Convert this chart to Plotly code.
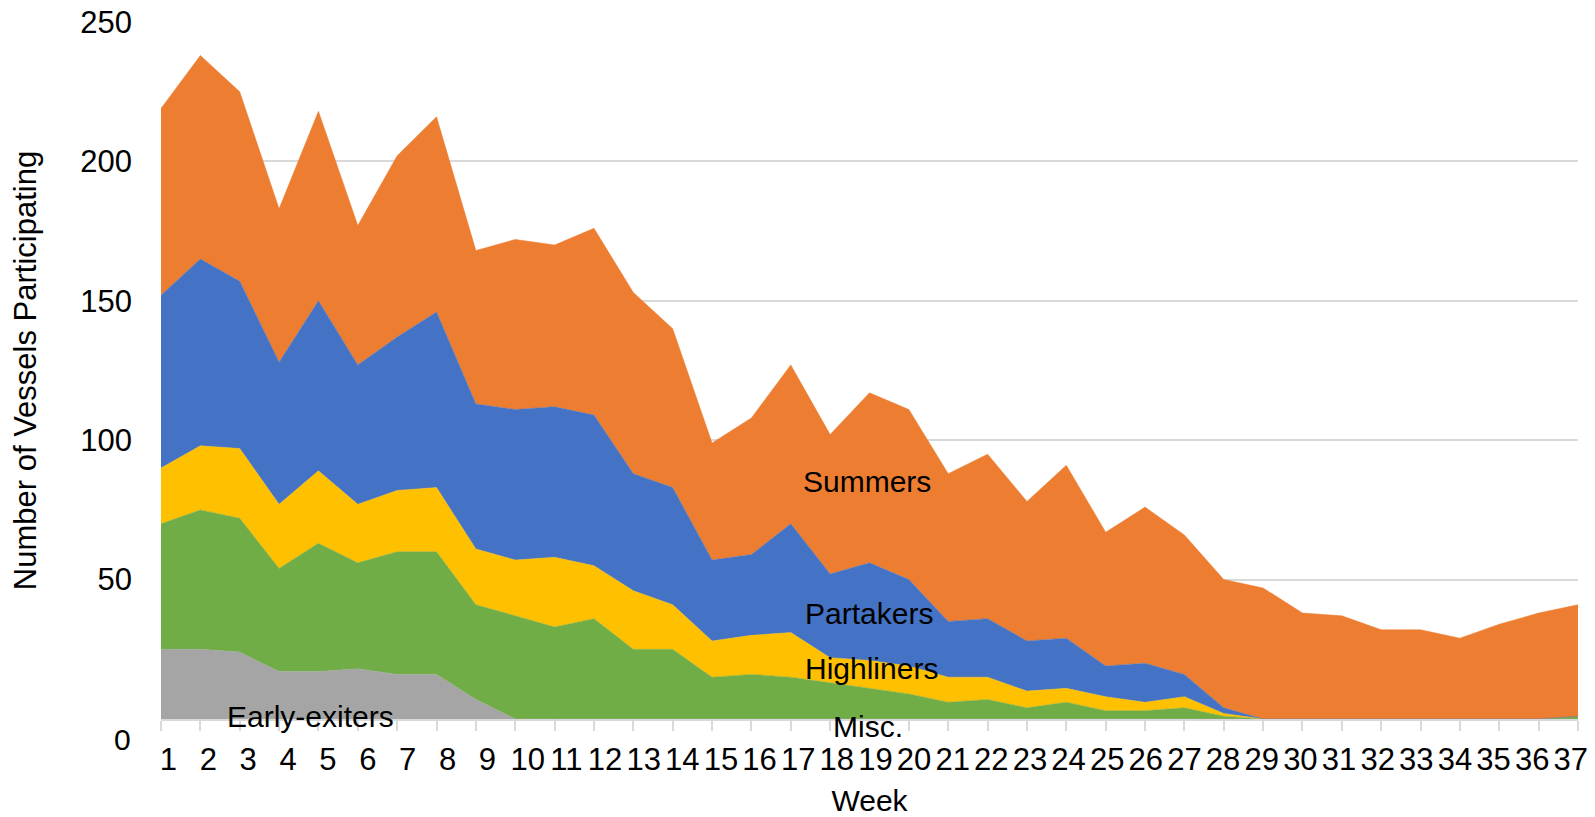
import plotly.graph_objects as go

weeks = list(range(1, 38))
week_labels = [str(w) for w in weeks]

early_exiters = [25, 25, 24, 17, 17, 18, 16, 16, 7, 0, 0, 0, 0, 0, 0, 0, 0, 0, 0, 0,
                 0, 0, 0, 0, 0, 0, 0, 0, 0, 0, 0, 0, 0, 0, 0, 0, 0]
misc = [45, 50, 48, 37, 46, 38, 44, 44, 34, 37, 33, 36, 25, 25, 15, 16, 15, 13, 11, 9,
        6, 7, 4, 6, 3, 3, 4, 1, 0, 0, 0, 0, 0, 0, 0, 0, 1]
highliners = [20, 23, 25, 23, 26, 21, 22, 23, 20, 20, 25, 19, 21, 16, 13, 14, 16, 9, 10, 10,
              9, 8, 6, 5, 5, 3, 4, 1, 0, 0, 0, 0, 0, 0, 0, 0, 0]
partakers = [62, 67, 60, 51, 61, 50, 55, 63, 52, 54, 54, 54, 42, 42, 29, 29, 39, 30, 35, 31,
             20, 21, 18, 18, 11, 14, 8, 2, 0, 0, 0, 0, 0, 0, 0, 0, 0]
summers = [67, 73, 68, 55, 68, 50, 65, 70, 55, 61, 58, 67, 65, 57, 42, 49, 57, 50, 61, 61,
           53, 59, 50, 62, 48, 56, 50, 46, 47, 38, 37, 32, 32, 29, 34, 38, 40]

series = [
    ("Early-exiters", early_exiters, "#A5A5A5"),
    ("Misc.", misc, "#70AD47"),
    ("Highliners", highliners, "#FFC000"),
    ("Partakers", partakers, "#4472C4"),
    ("Summers", summers, "#ED7D31"),
]

FONT = "Liberation Sans, Arial, sans-serif"
FS = 30
TFS = 31
GRID = "#D9D9D9"

fig = go.Figure()
for name, vals, color in series:
    fig.add_trace(go.Scatter(
        x=weeks, y=vals, name=name, mode="lines",
        stackgroup="one", line=dict(width=0.5, color=color),
        fillcolor=color, hoverinfo="x+y+name",
    ))

# the reference spaces the one-digit and two-digit week labels slightly
# differently from the tick marks; two label-only axes reproduce that
one_digit = [w for w in weeks if w < 10]
two_digit = [w for w in weeks if w >= 10]
fig.add_trace(go.Scatter(x=one_digit, y=[None] * len(one_digit), xaxis="x2",
                         mode="lines", showlegend=False, hoverinfo="skip"))
fig.add_trace(go.Scatter(x=two_digit, y=[None] * len(two_digit), xaxis="x3",
                         mode="lines", showlegend=False, hoverinfo="skip"))

# series labels placed inside the areas (data coordinates)
label_pos = [
    ("Summers", 18.93, 85.3, 0),
    ("Partakers", 18.98, 37.7, 0),
    ("Highliners", 19.04, 18.0, 0),
    ("Misc.", 18.96, 0, -7),
    ("Early-exiters", 4.81, 0.8, 0),
]
for text, x, y, ys in label_pos:
    fig.add_annotation(x=x, y=y, text=text, showarrow=False, yshift=ys,
                       font=dict(family=FONT, size=FS, color="black"),
                       xanchor="center", yanchor="middle")

# the "0" tick label sits a little below the baseline in the reference
fig.add_annotation(xref="paper", x=0, y=0, text="0", showarrow=False,
                   xanchor="right", yanchor="middle", xshift=-28, yshift=-20,
                   font=dict(family=FONT, size=FS, color="black"))

ytick_vals = [0, 50, 100, 150, 200, 250]
ytick_text = ["", "50", "100", "150", "200", "250"]

label_axis = dict(
    overlaying="x", anchor="y", side="bottom",
    ticks="outside", ticklen=10, tickcolor="rgba(0,0,0,0)",
    ticklabelstandoff=3, tickangle=0, ticklabeloverflow="allow",
    showline=False, showgrid=False, zeroline=False, automargin=False,
    tickfont=dict(family=FONT, size=TFS, color="black"),
)

fig.update_layout(
    width=1595, height=817,
    margin=dict(l=161, r=17, t=22, b=98),
    paper_bgcolor="white", plot_bgcolor="white",
    showlegend=False,
    font=dict(family=FONT, size=FS, color="black"),
    xaxis=dict(
        range=[1, 37], tickvals=weeks, showticklabels=False,
        ticks="outside", ticklen=10, tickwidth=1.5, tickcolor=GRID,
        showline=True, linecolor=GRID, linewidth=1.5,
        showgrid=False, zeroline=False, automargin=False,
        title=dict(text="Week", font=dict(family=FONT, size=FS, color="black"),
                   standoff=67),
    ),
    xaxis2=dict(label_axis, range=[0.814, 36.344], tickvals=one_digit,
                ticktext=[str(w) for w in one_digit]),
    xaxis3=dict(label_axis, range=[0.507, 37.187], tickvals=two_digit,
                ticktext=[str(w) for w in two_digit]),
    yaxis=dict(
        range=[0, 250], tickvals=ytick_vals, ticktext=ytick_text,
        showgrid=True, gridcolor=GRID, gridwidth=1.5,
        zeroline=False, showline=False, ticks="", automargin=False,
        ticklabelstandoff=28, ticklabeloverflow="allow",
        tickfont=dict(family=FONT, size=TFS, color="black"),
        title=dict(text="Number of Vessels Participating",
                   font=dict(family=FONT, size=31, color="black"), standoff=34),
    ),
)

# remove the browser's default 8px body margin so the figure fills the window
fig.write_html("out.html",
               config={"displayModeBar": False},
               post_script="document.body.style.margin='0';document.body.style.overflow='hidden';")
